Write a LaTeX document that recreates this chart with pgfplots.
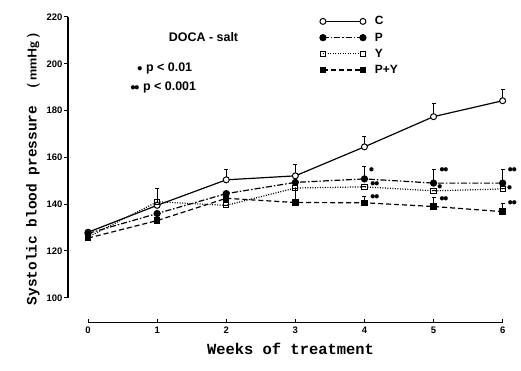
\documentclass[border=0pt]{standalone}
\usepackage{pgfplots}
\pgfplotsset{compat=1.18}
\usepackage{fontspec}
\setmainfont{Liberation Sans}
\setmonofont{Liberation Mono}
\newcommand{\st}{{\fontsize{11}{11}\selectfont$\bullet$}}
\newcommand{\sst}{{\fontsize{11}{11}\selectfont$\bullet$\kern-1.5bp$\bullet$}}
\begin{document}
\begin{tikzpicture}
\begin{axis}[
  scale only axis, width=445bp, height=307bp,
  xmin=-0.29, xmax=6.15, ymin=89.3, ymax=220.5,
  axis lines=left, axis line style={draw=none},
  clip=false,
  xtick={0,...,6}, ytick={100,120,...,220},
  tick align=inside,
  major tick length=4bp,
  tick style={black, line width=1bp},
  every y tick/.style={xshift=-4bp, line width=1bp},
  /pgf/number format/assume math mode=true,
  ticklabel style={font=\bfseries\fontsize{9.5}{10}\selectfont},
  yticklabel style={xshift=-2bp},
  xticklabel style={yshift=-1bp},
  xlabel={\ttfamily\bfseries\fontsize{15.5}{16}\selectfont Weeks of treatment},
  ylabel={\ttfamily\bfseries\fontsize{14.5}{16}\selectfont Systolic blood pressure \ \sffamily\fontsize{13}{13}\selectfont (\,mmHg\,)},
  xlabel style={yshift=-2bp},
  ylabel style={yshift=0bp},
  legend style={at={(axis cs:3.31,222)}, anchor=north west, draw=none, fill=none,
    font=\bfseries\fontsize{12}{12}\selectfont, row sep=2.5bp,
    nodes={inner xsep=9bp}},
  legend cell align=left,
  legend image code/.code={\draw[#1, mark repeat=1] plot coordinates {(0bp,0bp) (40bp,0bp)};},
  error bars/y dir=plus, error bars/y explicit,
  error bars/error bar style={line width=1bp, solid},
  error bars/error mark options={line width=1bp, mark size=2bp, rotate=90, solid},
]
\addplot[black, line width=1.2bp, mark=*, mark size=3bp, mark options={fill=white, solid, line width=1bp}]
  coordinates {(0,128) +- (0,0) (1,139.5) +- (0,0) (2,150.4) +- (0,4.3) (3,152.1) +- (0,4.7) (4,164.5) +- (0,4.5) (5,177.4) +- (0,5.6) (6,184.2) +- (0,4.8)};
\addlegendentry{C}
\addplot[black, line width=1.2bp, dash pattern=on 6bp off 2bp on 1.5bp off 2bp, mark=*, mark size=3bp, mark options={fill=black, solid}]
  coordinates {(0,127.5) +- (0,0) (1,136) +- (0,0) (2,144.5) +- (0,0) (3,149.3) +- (0,0) (4,150.8) +- (0,5.2) (5,149) +- (0,5.7) (6,149) +- (0,5.7)};
\addlegendentry{P}
\addplot[black, line width=1.2bp, dash pattern=on 1bp off 1.5bp, mark=square, mark size=2.6bp, mark options={fill=white, solid, line width=1bp}]
  coordinates {(0,126) +- (0,0) (1,141) +- (0,5.6) (2,139.5) +- (0,0) (3,146.9) +- (0,0) (4,147.4) +- (0,0) (5,145.7) +- (0,0) (6,146.5) +- (0,0)};
\addlegendentry{Y}
\addplot[black, line width=1.2bp, dash pattern=on 5bp off 3bp, mark=square*, mark size=2.6bp, mark options={fill=black, solid}]
  coordinates {(0,125.5) +- (0,0) (1,133) +- (0,0) (2,142.5) +- (0,0) (3,140.7) +- (0,6) (4,140.6) +- (0,2.8) (5,139) +- (0,3.7) (6,136.8) +- (0,3.4)};
\addlegendentry{P+Y}
% axis lines
\draw[line width=1.2bp] (axis cs:-0.29,100) -- (axis cs:-0.29,220);
\draw[line width=1.2bp] (axis cs:0,89.3) -- (axis cs:6,89.3);
% annotations
\node[font=\bfseries\fontsize{12.5}{13}\selectfont, anchor=west] at (axis cs:1.12,211.5) {DOCA - salt};
\node[font=\bfseries\fontsize{12.5}{13}\selectfont, anchor=west] at (axis cs:0.66,198) {\st\ p < 0.01};
\node[font=\bfseries\fontsize{12.5}{13}\selectfont, anchor=west] at (axis cs:0.56,190) {\sst\ p < 0.001};
% significance marks
\begin{scope}[every node/.style={inner sep=0pt, anchor=west}]
\node at (axis cs:4.06,154.5) {\st};
\node at (axis cs:4.08,148.5) {\sst};
\node at (axis cs:4.08,143) {\sst};
\node at (axis cs:5.08,154.5) {\sst};
\node at (axis cs:5.05,147.5) {\st};
\node at (axis cs:5.08,142.3) {\sst};
\node at (axis cs:6.07,154.5) {\sst};
\node at (axis cs:6.06,147) {\st};
\node at (axis cs:6.07,140.6) {\sst};
\end{scope}
\end{axis}
\pgfresetboundingbox
\path ([shift={(-68bp,-48bp)}]current axis.south west) rectangle ([shift={(8bp,15.8bp)}]current axis.north east);
\end{tikzpicture}
\end{document}
